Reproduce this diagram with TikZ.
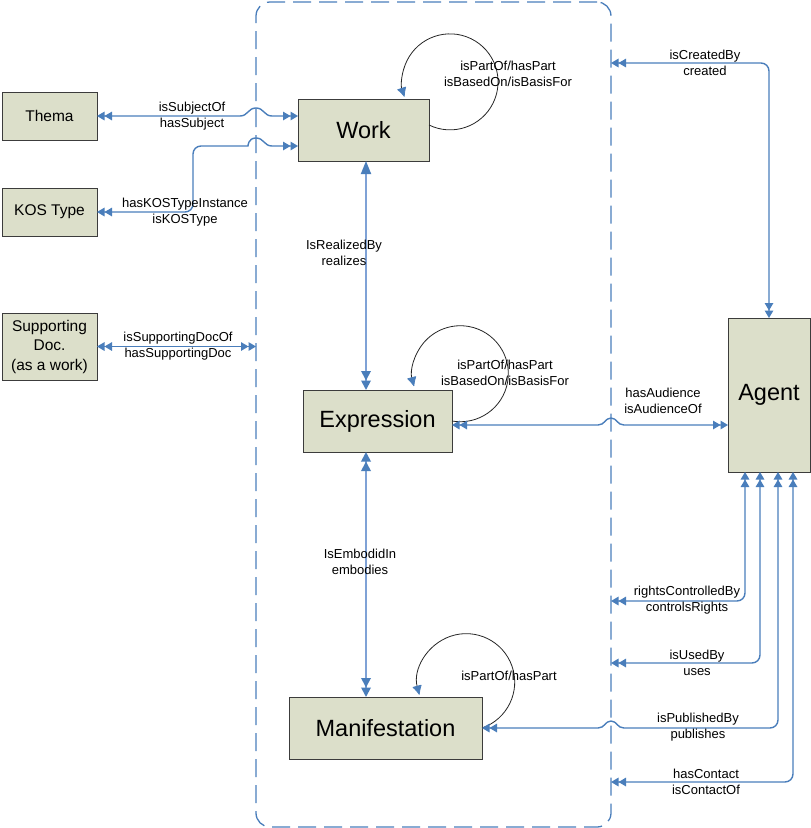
\documentclass[tikz,border=0pt]{standalone}
\usepackage{fontspec}
\setmainfont{Liberation Sans}
\usetikzlibrary{arrows.meta, calc}
\definecolor{boxbg}{HTML}{DCDFCA}
\definecolor{boxborder}{HTML}{3C3C3C}
\definecolor{linkblue}{HTML}{4A7EBB}
\definecolor{vlinkblue}{HTML}{7FA2D6}

\begin{document}
\begin{tikzpicture}[
    x=1pt, y=-1pt,
    dbl/.tip={Triangle[length=7.5pt,width=8.5pt] Triangle[length=7.5pt,width=8.5pt]},
    vdbl/.tip={Triangle[length=9.5pt,width=9.5pt,color=linkblue] Triangle[length=9.5pt,width=9.5pt,color=linkblue]},
    box/.style={
        draw=boxborder, fill=boxbg, line width=0.9pt, align=center,
        inner sep=2pt, outer sep=0pt
    },
    bigbox/.style={box, font=\fontsize{23.5}{28}\selectfont},
    smallbox/.style={box, font=\fontsize{15.5}{19.5}\selectfont, minimum width=95pt},
    scopeframe/.style={
        draw=linkblue, line width=1.3pt, rounded corners=14pt,
        dash pattern=on 18pt off 8pt, outer sep=0pt
    },
    link/.style={draw=linkblue, line width=1.4pt},
    vlink/.style={draw=vlinkblue, line width=1.8pt},
    selfloop/.style={
        draw=black!85, line width=0.8pt,
        -{Latex[round, length=10pt, width=10pt, color=linkblue]}
    },
    lbl/.style={font=\fontsize{13}{16}\selectfont, align=center, inner sep=0pt},
]
\useasboundingbox (0,0) rectangle (811,828);

% Dashed frame round the work, expression and manifestation
\node[scopeframe, minimum width=355pt, minimum height=825pt] (frame) at (433.5,414.5) {};

% Outside nodes (left)
\node[smallbox, minimum height=48pt] (thema) at (49.5,116) {Thema};
\node[smallbox, minimum height=48pt] (kos) at (49.5,212) {KOS Type};
\node[smallbox, minimum height=67pt] (sdoc) at (49.5,346.5) {Supporting\\Doc.\\(as a work)};

% Main entities
\node[bigbox, minimum width=131pt, minimum height=62pt] (work) at (363.5,130) {Work};
\node[bigbox, minimum width=149pt, minimum height=62pt] (expr) at (377.5,421) {Expression};
\node[bigbox, minimum width=193pt, minimum height=62pt] (manif) at (385.5,728) {Manifestation};

% Agent (right)
\node[bigbox, minimum width=82pt, minimum height=154pt] (agent) at (769,395) {Agent};

% Self loops
\draw[selfloop] ([yshift=5pt]work.east) arc[start angle=-116, end angle=198, radius=48pt];
\draw[selfloop] (expr.east) arc[start angle=-100, end angle=195, radius=48pt];
\draw[selfloop] (manif.east) arc[start angle=-71, end angle=195, radius=48.5pt];

% Left side connectors, hopping over the frame
\draw[link, dbl-dbl] (thema.east) -- (240,116)
    .. controls (248,116) and (248,108) .. (256,108)
    .. controls (264,108) and (264,116) .. (272,116) -- (work.west |- thema.east);
\draw[link, dbl-dbl] (kos.east) [rounded corners=8pt] -| (193,146) -- (240,146) [sharp corners]
    .. controls (248,146) and (248,138) .. (256,138)
    .. controls (264,138) and (264,146) .. (272,146) -- (work.west |- 0,146);
\draw[link, dbl-dbl] (sdoc.east) -- (frame.west |- sdoc.east);

% Work -> Expression -> Manifestation
\draw[vlink, {Triangle[length=13pt,width=10pt,color=linkblue]}-vdbl]
    ([xshift=2.5pt]work.south) -- ([xshift=2.5pt]work.south |- expr.north);
\draw[vlink, vdbl-vdbl] ([xshift=-11.5pt]expr.south) -- ([xshift=-11.5pt]expr.south |- manif.north);

% Agent connectors
\draw[link, dbl-dbl] (frame.east |- 0,63) [rounded corners=8pt] -| (agent.north);
\draw[link, dbl-dbl] ([yshift=-4pt]expr.east) -- (598,425)
    .. controls (605,425) and (605,418) .. (611,418)
    .. controls (617,418) and (617,425) .. (624,425) -- ([yshift=-30pt]agent.west);
\draw[link, dbl-dbl] ([xshift=-24pt]agent.south) [rounded corners=8pt] |- (frame.east |- 0,601);
\draw[link, dbl-dbl] ([xshift=-9pt]agent.south) [rounded corners=8pt] |- (frame.east |- 0,663);
\draw[link, dbl-dbl] (manif.east) -- (598,728)
    .. controls (605,728) and (605,721) .. (611,721)
    .. controls (617,721) and (617,728) .. (624,728) [rounded corners=8pt] -| ([xshift=9pt]agent.south);
\draw[link, dbl-dbl] ([xshift=24pt]agent.south) [rounded corners=8pt] |- (frame.east |- 0,782);

% Labels
\node[lbl] (lsubject) at (192,116) {isSubjectOf\\hasSubject};
\node[lbl] (lkos) at (185,212) {hasKOSTypeInstance\\isKOSType};
\node[lbl] (lsdoc) at (178,346) {isSupportingDocOf\\hasSupportingDoc};
\node[lbl] (lrealize) at (344,253) {IsRealizedBy\\realizes};
\node[lbl] (lembody) at (360,562) {IsEmbodidIn\\embodies};
\node[lbl] (lworkloop) at (508,74) {isPartOf/hasPart\\isBasedOn/isBasisFor};
\node[lbl] (lexprloop) at (505,373) {isPartOf/hasPart\\isBasedOn/isBasisFor};
\node[lbl] (lmanifloop) at (509,676) {isPartOf/hasPart};
\node[lbl] (lcreated) at (705,63) {isCreatedBy\\created};
\node[lbl] (laudience) at (663,401) {hasAudience\\isAudienceOf};
\node[lbl] (lrights) at (687,600) {rightsControlledBy\\controlsRights};
\node[lbl] (lused) at (697,663) {isUsedBy\\uses};
\node[lbl] (lpublished) at (698,727) {isPublishedBy\\publishes};
\node[lbl] (lcontact) at (706,782) {hasContact\\isContactOf};

\end{tikzpicture}
\end{document}
